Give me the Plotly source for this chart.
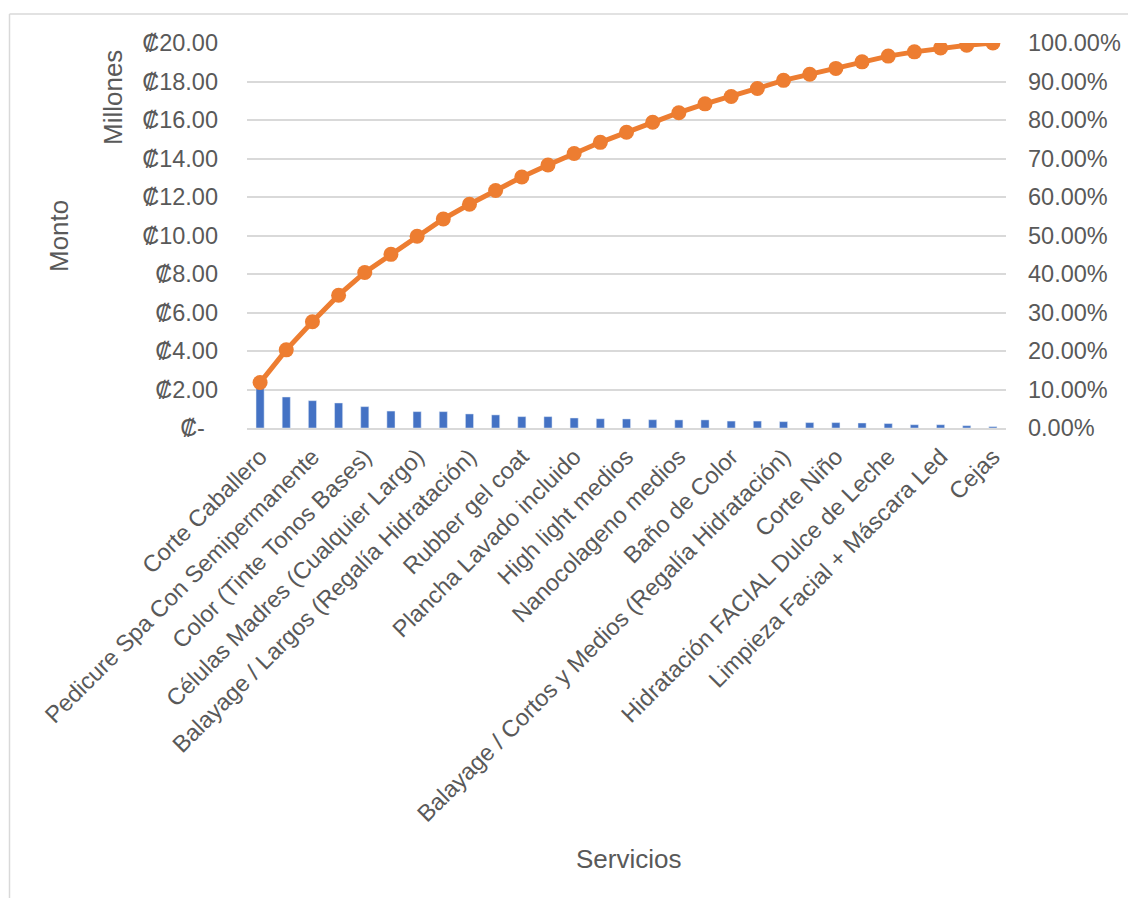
import plotly.graph_objects as go

servicios = [
    "Corte Caballero", "Servicio 2", "Pedicure Spa Con Semipermanente", "Servicio 4",
    "Color (Tinte Tonos Bases)", "Servicio 6", "Células Madres (Cualquier Largo)", "Servicio 8",
    "Balayage / Largos (Regalía Hidratación)", "Servicio 10", "Rubber gel coat", "Servicio 12",
    "Plancha Lavado incluido", "Servicio 14", "High light medios", "Servicio 16",
    "Nanocolageno medios", "Servicio 18", "Baño de Color", "Servicio 20",
    "Balayage / Cortos y Medios (Regalía Hidratación)", "Servicio 22", "Corte Niño", "Servicio 24",
    "Hidratación FACIAL Dulce de Leche", "Servicio 26", "Limpieza Facial + Máscara Led", "Servicio 28",
    "Cejas",
]

# Monto en millones de colones
monto = [2.23, 1.61, 1.42, 1.30, 1.11, 0.88, 0.85, 0.85, 0.73, 0.68,
         0.59, 0.59, 0.52, 0.48, 0.47, 0.43, 0.42, 0.42, 0.36, 0.36,
         0.33, 0.28, 0.28, 0.26, 0.23, 0.17, 0.17, 0.12, 0.07]

# Porcentaje acumulado
acumulado = [0.118, 0.203, 0.276, 0.345, 0.404, 0.451, 0.498, 0.543, 0.581, 0.617,
             0.652, 0.683, 0.713, 0.742, 0.768, 0.794, 0.819, 0.842, 0.861, 0.882,
             0.903, 0.919, 0.934, 0.951, 0.966, 0.977, 0.987, 0.994, 1.000]

left_ticks = [0, 2, 4, 6, 8, 10, 12, 14, 16, 18, 20]
left_text = ["₡-\u00a0\u00a0"] + ["₡%.2f" % v for v in left_ticks[1:]]
right_ticks = [i / 10 for i in range(11)]
right_text = ["%.2f%%" % (v * 100) for v in right_ticks]

shown = servicios[0::2]

FONT = "Liberation Sans, Arial, sans-serif"
GREY = "#595959"
GRID = "#d9d9d9"
TICK = 23.5
TITLE = 26

fig = go.Figure()
fig.add_trace(go.Bar(x=servicios, y=monto, marker_color="#4472C4", width=0.31,
                     name="Monto", yaxis="y"))
fig.add_trace(go.Scatter(x=servicios, y=acumulado, mode="lines+markers",
                         line=dict(color="#ED7D31", width=5),
                         marker=dict(color="#ED7D31", size=15),
                         name="Acumulado", yaxis="y2"))

W, H = 1128, 898
L, R, T, B = 247, 1006, 43, 428
px = lambda x: (x - L) / (R - L)
py = lambda y: (B - y) / (B - T)

fig.update_layout(
    width=W, height=H,
    margin=dict(l=L, r=W - R, t=T, b=H - B, autoexpand=False),
    paper_bgcolor="white", plot_bgcolor="white",
    showlegend=False,
    font=dict(family=FONT, size=TICK, color=GREY),
    xaxis=dict(
        type="category", tickvals=shown, ticktext=shown, tickangle=-45,
        showgrid=False, showline=True, linecolor=GRID, linewidth=1.5,
        ticks="", tickfont=dict(size=TICK, color=GREY), ticklabelstandoff=4,
        range=[-0.5, 28.5], automargin=False,
    ),
    yaxis=dict(
        range=[0, 20], tickvals=left_ticks, ticktext=left_text,
        showgrid=True, gridcolor=GRID, gridwidth=1.5, zeroline=False,
        ticks="", tickfont=dict(size=TICK, color=GREY), ticklabelstandoff=28,
        automargin=False,
    ),
    yaxis2=dict(
        range=[0, 1], tickvals=right_ticks, ticktext=right_text,
        overlaying="y", side="right", showgrid=False, zeroline=False,
        ticks="", tickfont=dict(size=TICK, color=GREY), ticklabelstandoff=21,
        automargin=False,
    ),
    annotations=[
        dict(text="Servicios", x=px(628), y=py(859), xref="paper", yref="paper",
             showarrow=False, font=dict(size=TITLE, color=GREY), xanchor="center", yanchor="middle"),
        dict(text="Monto", x=px(59), y=py(236), xref="paper", yref="paper", textangle=-90,
             showarrow=False, font=dict(size=TITLE, color=GREY), xanchor="center", yanchor="middle"),
        dict(text="Millones", x=px(113), y=py(98), xref="paper", yref="paper", textangle=-90,
             showarrow=False, font=dict(size=TITLE, color=GREY), xanchor="center", yanchor="middle"),
    ],
    shapes=[
        dict(type="line", xref="paper", yref="paper", x0=px(9.5), x1=px(9.5), y0=py(14), y1=py(910),
             line=dict(color=GRID, width=1.5)),
        dict(type="line", xref="paper", yref="paper", x0=px(9.5), x1=px(1140), y0=py(14), y1=py(14),
             line=dict(color=GRID, width=1.5)),
    ],
)

fig.write_html("out.html")
